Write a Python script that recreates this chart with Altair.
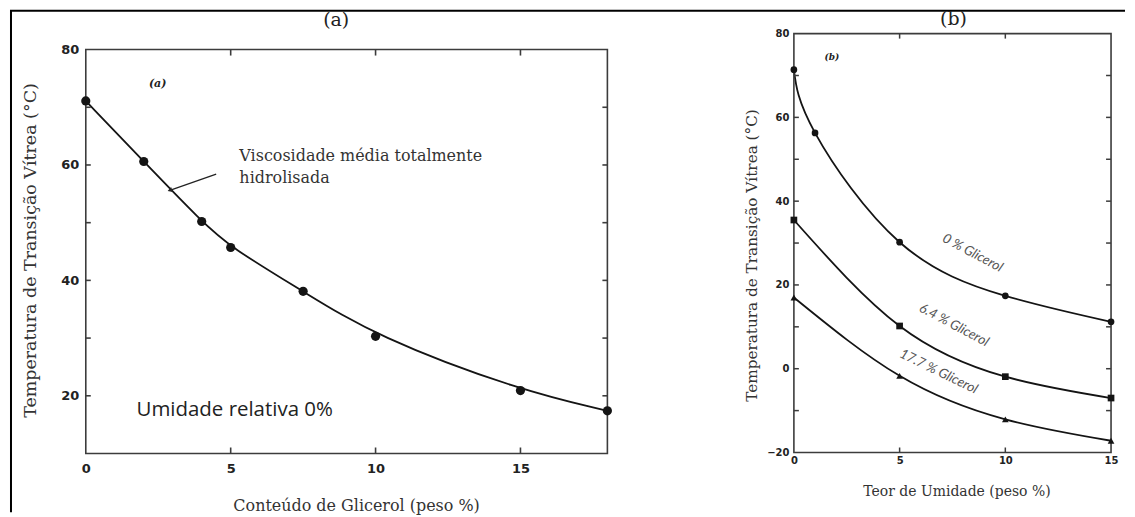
import altair as alt
import pandas as pd

# ---------------- data ----------------
# Panel (a): Tg vs glycerol content
a_glycerol = [0, 2, 4, 5, 7.5, 10, 15, 18]
a_tg = [71.1, 60.6, 50.2, 45.7, 38.1, 30.3, 20.9, 17.4]

# Panel (b): Tg vs moisture content for three glycerol levels
b_series = ["0 % Glicerol", "6.4 % Glicerol", "17.7 % Glicerol"]
b0_moist = [0, 1, 5, 10, 15]
b0_tg = [71.4, 56.3, 30.2, 17.4, 11.2]
b64_moist = [0, 5, 10, 15]
b64_tg = [35.5, 10.2, -1.9, -7.0]
b177_moist = [0, 5, 10, 15]
b177_tg = [17.0, -1.7, -12.1, -17.2]

# curve labels in (b)
b_lab_x = [8.45, 7.57, 6.84]
b_lab_y = [27.6, 10.4, -0.7]
b_lab_angle = [28, 28, 26]

# axis ticks
a_xlabels = [0, 5, 10, 15]
a_ylabels = [20, 40, 60, 80]
a_xticks = [5, 10, 15]
a_yticks = [20, 30, 40, 50, 60, 70]
b_xlabels = [0, 5, 10, 15]
b_ylabels = [-20, 0, 20, 40, 60, 80]
b_xticks = [5, 10]
b_yticks = [-10, 0, 10, 20, 30, 40, 50, 60, 70]

# axis limits
a_xlim = [0, 18]
a_ylim = [10, 80]
b_xlim = [0, 15]
b_ylim = [-20, 80]

# annotations (a)
ann_text = ["Viscosidade média totalmente", "hidrolisada"]
ann_x = [5.3, 5.3]
ann_y = [61.6, 57.7]
arrow_x = [4.5, 2.9]
arrow_y = [58.4, 55.6]
rh_text = ["Umidade relativa 0%"]
rh_x = [1.75]
rh_y = [17.6]
a_small = ["(a)"]
a_small_x = [2.48]
a_small_y = [74.1]
a_title = ["(a)"]
a_title_x = [8.64]
a_title_y = [85.2]
b_small = ["(b)"]
b_small_x = [1.8]
b_small_y = [74.3]
b_title = ["(b)"]
b_title_x = [7.55]
b_title_y = [83.4]

# ---------------- layout ----------------
AW, AH = 523, 421          # panel (a) plot area (top extended to align with (b))
BW, BH = 318, 420
a_px_per_unit = 405 / 70.0
a_ytop = 80 + 16 / a_px_per_unit

INK = "#141414"
FRAME = "#3c3c3c"
TXT = "#333333"
SERIF = "DejaVu Serif"
TICKFONT = "DejaVu Sans"

xa = alt.Scale(domain=a_xlim, nice=False, zero=False)
ya = alt.Scale(domain=[a_ylim[0], a_ytop], nice=False, zero=False)
xb = alt.Scale(domain=b_xlim, nice=False, zero=False)
yb = alt.Scale(domain=b_ylim, nice=False, zero=False)


def txt(xs, ys, ts, xs_scale, ys_scale, **kw):
    return alt.Chart(pd.DataFrame({"x": xs, "y": ys, "t": ts})).mark_text(**kw).encode(
        x=alt.X("x:Q", scale=xs_scale), y=alt.Y("y:Q", scale=ys_scale), text="t:N")


# ---------------- panel (a) ----------------
dfa = pd.DataFrame({"g": a_glycerol, "tg": a_tg})

a_line = alt.Chart(dfa).mark_line(color=INK, strokeWidth=1.8, interpolate="basis").encode(
    x=alt.X("g:Q", scale=xa, axis=alt.Axis(
        values=a_xlabels, tickSize=0, ticks=False, domain=False, grid=False, labelPadding=9,
        labelFlush=False, labelFont=TICKFONT, labelFontWeight="bold", labelFontSize=13, labelColor="#222",
        title="Conteúdo de Glicerol (peso %)", titleFont=SERIF, titleFontWeight="normal",
        titleFontSize=16, titleColor=TXT, titleX=271, titleY=52,
        titleBaseline="middle", titleAlign="center")),
    y=alt.Y("tg:Q", scale=ya, axis=alt.Axis(
        values=a_ylabels, tickSize=0, ticks=False, domain=False, grid=False, labelPadding=7,
        labelFlush=False, labelFont=TICKFONT, labelFontWeight="bold", labelFontSize=13, labelColor="#222",
        title="Temperatura de Transição Vítrea (°C)", titleFont=SERIF, titleFontWeight="normal",
        titleFontSize=17.5, titleColor=TXT, titleX=-55, titleY=217, titleAngle=270,
        titleBaseline="middle", titleAlign="center")),
)
a_pts = alt.Chart(dfa).mark_point(filled=True, color=INK, size=85, opacity=1, shape="circle").encode(
    x=alt.X("g:Q", scale=xa), y=alt.Y("tg:Q", scale=ya))

a_frame = alt.Chart(pd.DataFrame({"x0": [a_xlim[0]], "x1": [a_xlim[1]], "y0": [a_ylim[0]], "y1": [a_ylim[1]]})).mark_rect(
    fill="transparent", stroke=FRAME, strokeWidth=1.6).encode(
    x=alt.X("x0:Q", scale=xa), x2="x1:Q",
    y=alt.Y("y0:Q", scale=ya), y2="y1:Q")

a_y_top_px = 16
a_yt = pd.DataFrame({"v": a_yticks})
a_xt = pd.DataFrame({"v": a_xticks})
a_tl = alt.Chart(a_yt).mark_rule(color=FRAME, strokeWidth=1.6).encode(
    y=alt.Y("v:Q", scale=ya), x=alt.value(0), x2=alt.value(5))
a_tr = alt.Chart(a_yt).mark_rule(color=FRAME, strokeWidth=1.6).encode(
    y=alt.Y("v:Q", scale=ya), x=alt.value(AW - 5), x2=alt.value(AW))
a_tb = alt.Chart(a_xt).mark_rule(color=FRAME, strokeWidth=1.6).encode(
    x=alt.X("v:Q", scale=xa), y=alt.value(AH - 6), y2=alt.value(AH))
a_tt = alt.Chart(a_xt).mark_rule(color=FRAME, strokeWidth=1.6).encode(
    x=alt.X("v:Q", scale=xa), y=alt.value(a_y_top_px), y2=alt.value(a_y_top_px + 6))

a_ann = txt(ann_x, ann_y, ann_text, xa, ya, align="left", baseline="middle", font=SERIF,
            fontSize=16, color=TXT)

a_arrow = alt.Chart(pd.DataFrame({"x0": [arrow_x[0]], "x1": [arrow_x[1]], "y0": [arrow_y[0]], "y1": [arrow_y[1]]})).mark_rule(
    color="#222", strokeWidth=1.3).encode(
    x=alt.X("x0:Q", scale=xa), x2="x1:Q",
    y=alt.Y("y0:Q", scale=ya), y2="y1:Q")
a_head = alt.Chart(pd.DataFrame({"x": [arrow_x[1]], "y": [arrow_y[1]]})).mark_point(
    shape="triangle-up", filled=True, color="#222", size=28, angle=251, opacity=1).encode(
    x=alt.X("x:Q", scale=xa), y=alt.Y("y:Q", scale=ya))

a_rh = txt(rh_x, rh_y, rh_text, xa, ya, align="left", baseline="middle", font="Open Sans",
           fontSize=20.5, color="#222")
a_sm = txt(a_small_x, a_small_y, a_small, xa, ya, align="center", baseline="middle", font=SERIF,
           fontSize=11, fontStyle="italic", fontWeight="bold", color="#222")
a_ti = txt(a_title_x, a_title_y, a_title, xa, ya, align="center", baseline="middle", font=SERIF,
           fontSize=19, color="#222")

# outer frame lines (decoration)
a_outer_left = alt.Chart(pd.DataFrame({"d": [0]})).mark_rule(color="#000", strokeWidth=2).encode(
    x=alt.value(-75), y=alt.value(-23), y2=alt.value(480))
a_outer_top = alt.Chart(pd.DataFrame({"d": [0]})).mark_rule(color="#000", strokeWidth=2).encode(
    x=alt.value(-76), x2=alt.value(1042), y=alt.value(-23))

panel_a = alt.layer(a_line, a_outer_left, a_outer_top, a_frame, a_tl, a_tr, a_tb, a_tt,
                    a_pts, a_ann, a_arrow, a_head, a_rh, a_sm, a_ti).properties(width=AW, height=AH)

# ---------------- panel (b) ----------------
dfb = pd.concat([
    pd.DataFrame({"m": b0_moist, "tg": b0_tg, "s": b_series[0]}),
    pd.DataFrame({"m": b64_moist, "tg": b64_tg, "s": b_series[1]}),
    pd.DataFrame({"m": b177_moist, "tg": b177_tg, "s": b_series[2]}),
], ignore_index=True)

b_line = alt.Chart(dfb).mark_line(color=INK, strokeWidth=1.8, interpolate="natural").encode(
    x=alt.X("m:Q", scale=xb, axis=alt.Axis(
        values=b_xlabels, tickSize=0, ticks=False, domain=False, grid=False, labelPadding=3,
        labelFlush=False, labelFont=TICKFONT, labelFontWeight="bold", labelFontSize=10, labelColor="#222",
        title="Teor de Umidade (peso %)", titleFont=SERIF, titleFontWeight="normal",
        titleFontSize=14, titleColor=TXT, titleX=163, titleY=39,
        titleBaseline="middle", titleAlign="center")),
    y=alt.Y("tg:Q", scale=yb, axis=alt.Axis(
        values=b_ylabels, tickSize=0, ticks=False, domain=False, grid=False, labelPadding=5,
        labelFlush=False, labelFont=TICKFONT, labelFontWeight="bold", labelFontSize=10, labelColor="#222",
        title="Temperatura de Transição Vítrea (°C)", titleFont=SERIF, titleFontWeight="normal",
        titleFontSize=15.3, titleColor=TXT, titleX=-42, titleY=222, titleAngle=270,
        titleBaseline="middle", titleAlign="center")),
    detail="s:N",
)
b_pts = alt.Chart(dfb).mark_point(filled=True, color=INK, size=45, opacity=1).encode(
    x=alt.X("m:Q", scale=xb), y=alt.Y("tg:Q", scale=yb),
    shape=alt.Shape("s:N", scale=alt.Scale(domain=b_series, range=["circle", "square", "triangle-up"]), legend=None),
)

b_frame = alt.Chart(pd.DataFrame({"x0": [b_xlim[0]], "x1": [b_xlim[1]], "y0": [b_ylim[0]], "y1": [b_ylim[1]]})).mark_rect(
    fill="transparent", stroke=FRAME, strokeWidth=1.6).encode(
    x=alt.X("x0:Q", scale=xb), x2="x1:Q",
    y=alt.Y("y0:Q", scale=yb), y2="y1:Q")

b_yt = pd.DataFrame({"v": b_yticks})
b_xt = pd.DataFrame({"v": b_xticks})
b_tl = alt.Chart(b_yt).mark_rule(color=FRAME, strokeWidth=1.5).encode(
    y=alt.Y("v:Q", scale=yb), x=alt.value(0), x2=alt.value(5))
b_tr = alt.Chart(b_yt).mark_rule(color=FRAME, strokeWidth=1.5).encode(
    y=alt.Y("v:Q", scale=yb), x=alt.value(BW - 5), x2=alt.value(BW))
b_tb = alt.Chart(b_xt).mark_rule(color=FRAME, strokeWidth=1.5).encode(
    x=alt.X("v:Q", scale=xb), y=alt.value(BH - 5), y2=alt.value(BH))
b_tt = alt.Chart(b_xt).mark_rule(color=FRAME, strokeWidth=1.5).encode(
    x=alt.X("v:Q", scale=xb), y=alt.value(0), y2=alt.value(5))

b_labels = alt.Chart(pd.DataFrame({"x": b_lab_x, "y": b_lab_y, "t": b_series, "a": b_lab_angle})).mark_text(
    align="center", baseline="middle", font="Lato", fontStyle="italic", fontSize=13.5, color="#555").encode(
    x=alt.X("x:Q", scale=xb), y=alt.Y("y:Q", scale=yb), text="t:N",
    angle=alt.Angle("a:Q", scale=None))

b_sm = txt(b_small_x, b_small_y, b_small, xb, yb, align="center", baseline="middle", font=SERIF,
           fontSize=9, fontStyle="italic", fontWeight="bold", color="#222")
b_ti = txt(b_title_x, b_title_y, b_title, xb, yb, align="center", baseline="middle", font=SERIF,
           fontSize=19, color="#222")

panel_b = alt.layer(b_line, b_frame, b_tl, b_tr, b_tb, b_tt, b_pts,
                    b_labels, b_sm, b_ti).properties(width=BW, height=BH)

chart = alt.hconcat(panel_a, panel_b, spacing=187, bounds="flush").properties(
    padding=0, background="white"
).configure_view(stroke="transparent")

chart.save("out.html", embed_options={"renderer": "svg", "actions": False})
